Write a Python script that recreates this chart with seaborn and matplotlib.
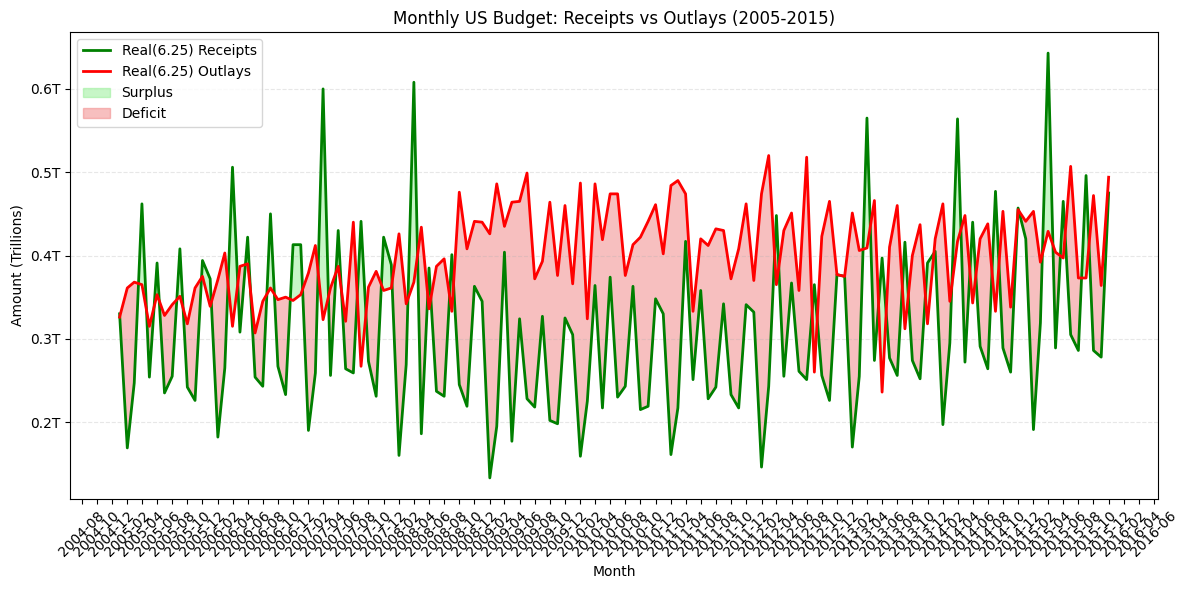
import numpy as np
import pandas as pd
import seaborn as sns
import matplotlib
matplotlib.use('Agg')
import matplotlib.pyplot as plt
import matplotlib.dates as mdates
from matplotlib.ticker import FuncFormatter

# %% ---- data (trillions of dollars, monthly) ----
start_month = '2005-01-01'

receipts = [
    0.330, 0.169, 0.247, 0.462, 0.254, 0.391, 0.235, 0.255, 0.408, 0.242, 0.226, 0.394,
    0.372, 0.182, 0.265, 0.506, 0.308, 0.422, 0.254, 0.243, 0.450, 0.267, 0.233, 0.413,
    0.413, 0.190, 0.259, 0.600, 0.256, 0.430, 0.264, 0.259, 0.441, 0.273, 0.231, 0.422,
    0.389, 0.160, 0.269, 0.608, 0.186, 0.385, 0.237, 0.231, 0.401, 0.245, 0.219, 0.363,
    0.345, 0.133, 0.195, 0.404, 0.177, 0.324, 0.228, 0.218, 0.327, 0.202, 0.198, 0.325,
    0.305, 0.159, 0.225, 0.364, 0.217, 0.374, 0.230, 0.243, 0.363, 0.215, 0.219, 0.348,
    0.330, 0.161, 0.217, 0.417, 0.251, 0.358, 0.228, 0.242, 0.342, 0.233, 0.217, 0.341,
    0.332, 0.146, 0.243, 0.448, 0.255, 0.367, 0.261, 0.251, 0.365, 0.256, 0.226, 0.377,
    0.375, 0.170, 0.255, 0.565, 0.274, 0.397, 0.277, 0.256, 0.416, 0.274, 0.252, 0.391,
    0.405, 0.197, 0.295, 0.564, 0.272, 0.440, 0.291, 0.264, 0.477, 0.289, 0.260, 0.457,
    0.420, 0.191, 0.319, 0.643, 0.289, 0.465, 0.305, 0.286, 0.496, 0.286, 0.278, 0.475,
]

outlays = [
    0.326, 0.361, 0.368, 0.365, 0.315, 0.353, 0.328, 0.341, 0.351, 0.318, 0.361, 0.375,
    0.339, 0.371, 0.403, 0.315, 0.387, 0.390, 0.307, 0.345, 0.361, 0.347, 0.350, 0.346,
    0.353, 0.379, 0.412, 0.323, 0.361, 0.387, 0.321, 0.440, 0.267, 0.362, 0.381, 0.358,
    0.361, 0.426, 0.342, 0.368, 0.434, 0.336, 0.387, 0.396, 0.333, 0.476, 0.408, 0.441,
    0.440, 0.426, 0.486, 0.435, 0.464, 0.465, 0.499, 0.372, 0.393, 0.464, 0.376, 0.460,
    0.366, 0.487, 0.324, 0.486, 0.419, 0.474, 0.474, 0.376, 0.413, 0.422, 0.441, 0.461,
    0.402, 0.484, 0.490, 0.474, 0.333, 0.420, 0.412, 0.432, 0.430, 0.372, 0.408, 0.462,
    0.370, 0.474, 0.520, 0.365, 0.430, 0.451, 0.358, 0.518, 0.260, 0.423, 0.465, 0.377,
    0.375, 0.451, 0.406, 0.409, 0.466, 0.236, 0.410, 0.460, 0.312, 0.400, 0.437, 0.318,
    0.420, 0.462, 0.345, 0.417, 0.448, 0.343, 0.420, 0.438, 0.333, 0.453, 0.338, 0.455,
    0.441, 0.453, 0.392, 0.429, 0.404, 0.397, 0.507, 0.373, 0.373, 0.472, 0.364, 0.494,
]

# %% ---- frame ----
months = pd.date_range(start_month, periods=len(receipts), freq='MS')
df = pd.DataFrame({
    'Month': months,
    'Receipts': np.array(receipts) * 1e12,
    'Outlays': np.array(outlays) * 1e12,
})

# %% ---- plot ----
fig, ax = plt.subplots(figsize=(11.89, 5.9), dpi=100)

sns.lineplot(df, x='Month', y='Receipts', color='green', linewidth=2,
             label='Real(6.25) Receipts', ax=ax)
sns.lineplot(df, x='Month', y='Outlays', color='red', linewidth=2,
             label='Real(6.25) Outlays', ax=ax)

r = df['Receipts'].values
o = df['Outlays'].values
ax.fill_between(df['Month'], r, o, where=r >= o, interpolate=True,
                color='lightgreen', alpha=0.5, label='Surplus')
ax.fill_between(df['Month'], r, o, where=r < o, interpolate=True,
                color='lightcoral', alpha=0.5, label='Deficit')

ax.set_title('Monthly US Budget: Receipts vs Outlays (2005-2015)')
ax.set_xlabel('Month')
ax.set_ylabel('Amount (Trillions)')
ax.yaxis.set_major_formatter(FuncFormatter(lambda v, p: f'{v / 1e12:.1f}T'))
ax.xaxis.set_major_locator(mdates.MonthLocator(interval=2))
ax.xaxis.set_major_formatter(mdates.DateFormatter('%Y-%m'))
ax.tick_params(axis='x', labelrotation=45)
ax.grid(axis='y', linestyle='--', alpha=0.3)
ax.legend(loc='upper left')

# axes box placed to match the reference
fig.subplots_adjust(left=0.059, right=0.974, top=0.946, bottom=0.154)
fig.savefig('out.png', dpi=100)
